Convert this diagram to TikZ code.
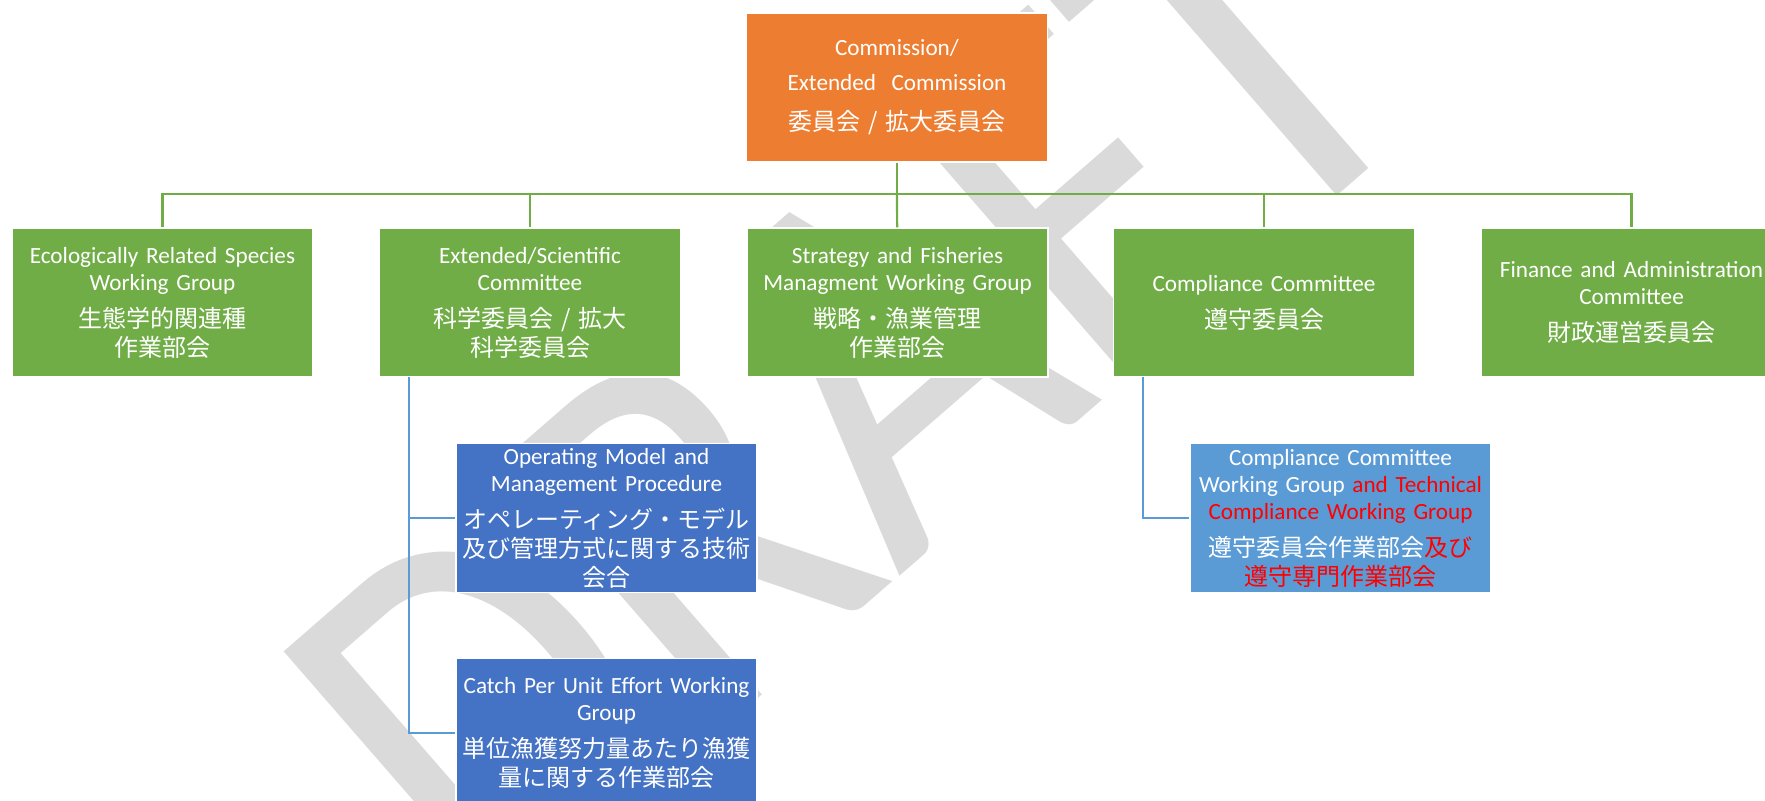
\documentclass[tikz,border=0pt]{standalone}
\usepackage{fontspec}
\setmainfont{Carlito}
\newfontfamily\jp{Noto Sans CJK JP}
\definecolor{orgorange}{HTML}{ED7D31}
\definecolor{orggreen}{HTML}{70AD47}
\definecolor{orgblue}{HTML}{4472C4}
\definecolor{orglight}{HTML}{5B9BD5}
\definecolor{wmgray}{HTML}{DADADA}
\newcommand{\jpt}{\jp\fontsize{12}{14.5}\selectfont}

\begin{document}
\begin{tikzpicture}
  [x=0.5pt,y=-0.5pt,
   orgbox/.style={draw=white,line width=0.6pt,text=white,text width=150pt,align=center,
     minimum width=150.5pt,minimum height=74.5pt,inner sep=0.25pt,font=\fontsize{11.6}{13.5}\selectfont},
   topbox/.style={orgbox,fill=orgorange,font=\fontsize{11.6}{17.5}\selectfont},
   groupbox/.style={orgbox,fill=orggreen},
   subbox/.style={orgbox,fill=orgblue},
   ccbox/.style={orgbox,fill=orglight},
   busline/.style={orggreen,line width=1.1pt},
   branch/.style={orglight,line width=1.3pt}]

  \useasboundingbox (0,0) rectangle (1765,801);
  \clip (0,0) rectangle (1765,801);

  \node[rotate=41,yscale=1.15,text=wmgray,font=\fontsize{235}{235}\selectfont] (draft) at (850,390) {DRAFT};

  \node[topbox] (comm) at (897,87.5) {Commission/\\Extended\ \ Commission\par\vspace{5.5pt}{\jpt 委員会 / 拡大委員会\par}};

  \node[groupbox] (erswg) at (162.5,302.5) {Ecologically Related Species\\Working Group\par\vspace{4pt}{\jpt 生態学的関連種\\作業部会\par}};
  \node[groupbox] (esc) at (530,302.5) {Extended/Scientific\\Committee\par\vspace{4pt}{\jpt 科学委員会 / 拡大\\科学委員会\par}};
  \node[groupbox] (sfmwg) at (897.5,302.5) {Strategy and Fisheries\\Managment Working Group\par\vspace{4pt}{\jpt 戦略・漁業管理\\作業部会\par}};
  \node[groupbox] (cc) at (1264,302.5) {Compliance Committee\par\vspace{4pt}{\jpt 遵守委員会\par}};
  \node[groupbox] (fac) at (1631.5,302.5) {Finance and Administration\\Committee\par\vspace{4pt}{\jpt 財政運営委員会\par}};

  \node[subbox] (ommp) at (606.5,518) {Operating Model and\\Management Procedure\par\vspace{4pt}{\jpt オペレーティング・モデル\\及び管理方式に関する技術\\会合\par}};
  \node[subbox] (cpuewg) at (606.5,733) {Catch Per Unit Effort Working\\Group\par\vspace{4pt}{\jpt 単位漁獲努力量あたり漁獲\\量に関する作業部会\par}};
  \node[ccbox] (ccwg) at (1340.5,518) {Compliance Committee\\Working Group \textcolor{red}{and Technical\\Compliance Working Group}\par\vspace{4pt}{\jpt 遵守委員会作業部会\textcolor{red}{及び\\遵守専門作業部会}\par}};

  \coordinate (bus) at (897,194);
  \coordinate (escdrop) at (409,377);
  \coordinate (ccdrop) at (1143,377);

  \draw[busline] (comm) -- (bus);
  \draw[busline] (bus) -| (erswg);
  \draw[busline] (bus) -| (esc);
  \draw[busline] (bus) -- (sfmwg);
  \draw[busline] (bus) -| (cc);
  \draw[busline] (bus) -| (fac);

  \draw[branch] (escdrop) |- (ommp);
  \draw[branch] (escdrop) |- (cpuewg);
  \draw[branch] (ccdrop) |- (ccwg);
\end{tikzpicture}
\end{document}
